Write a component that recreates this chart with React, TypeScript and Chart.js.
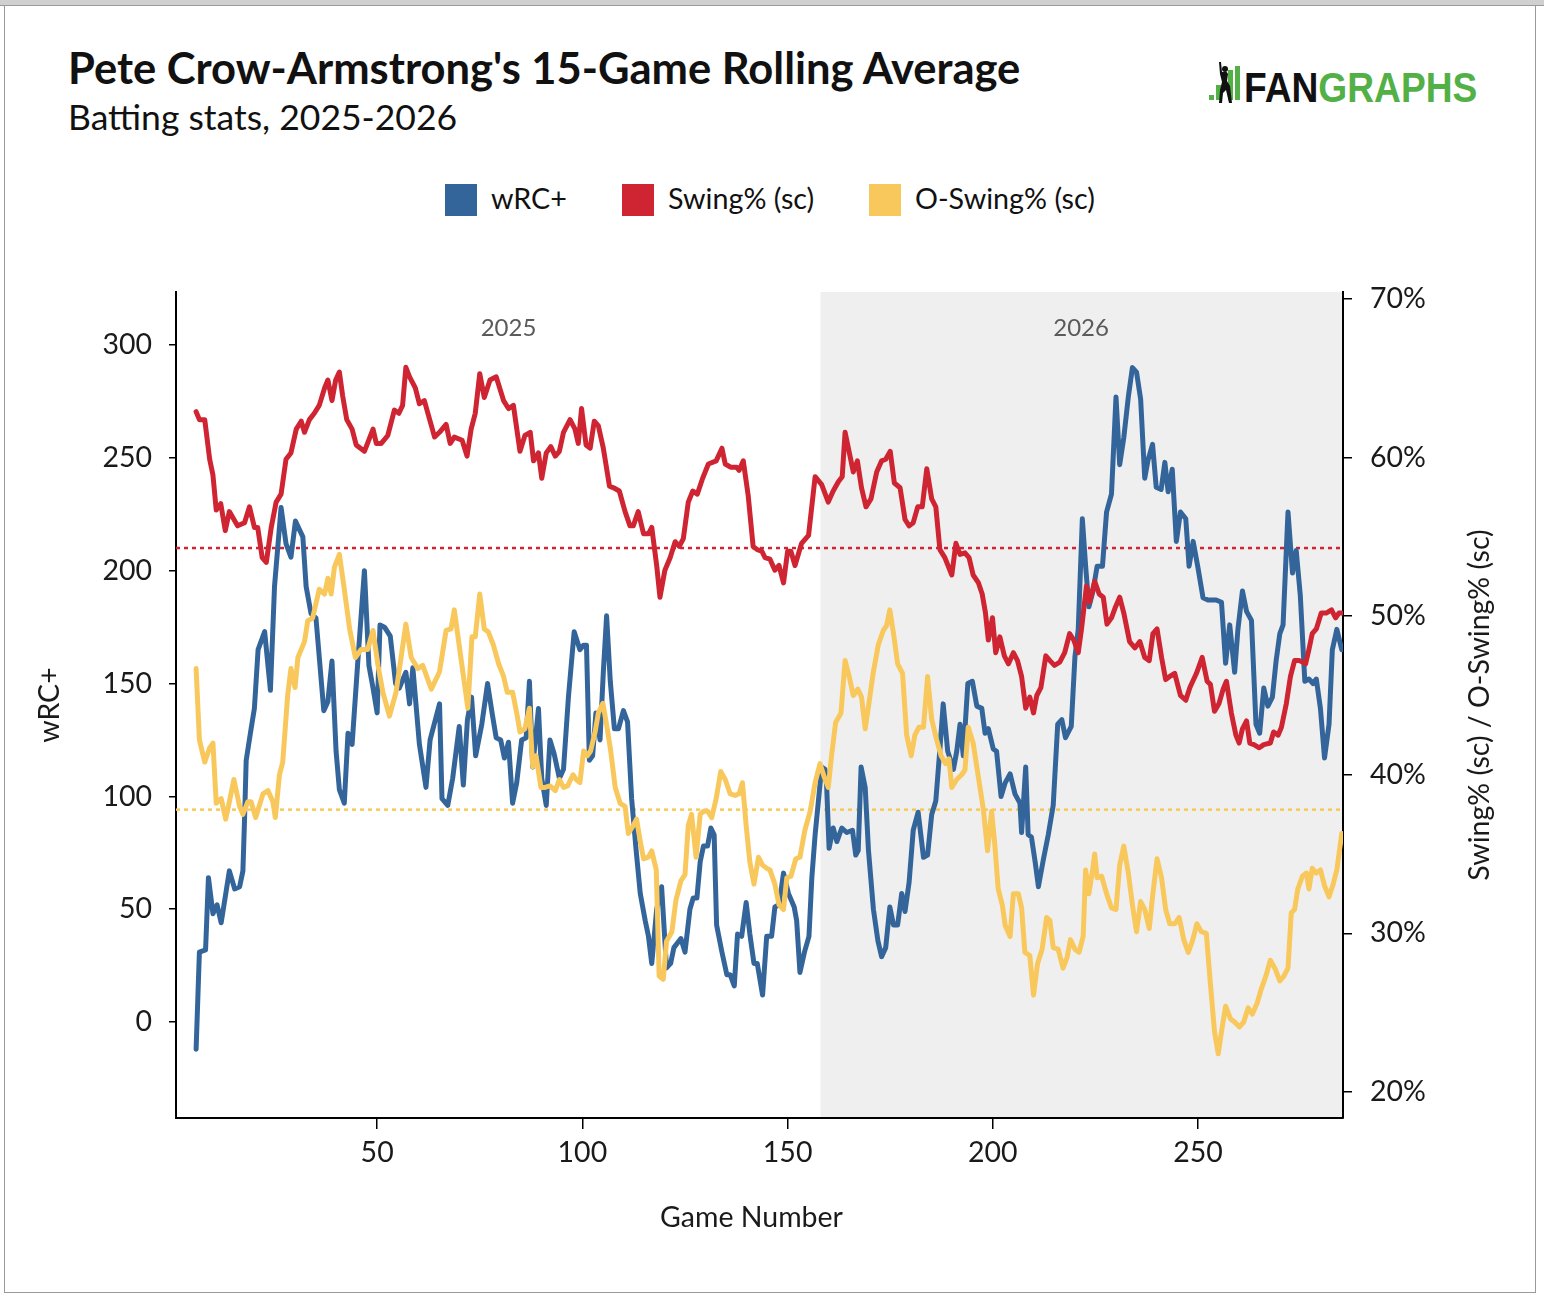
import { useEffect, useRef } from "react"
import { Chart, registerables, type Plugin } from "chart.js"

Chart.register(...registerables)

// wRC+ (left axis) — vertices, game number / value
const wrcGames = [
  5.9, 6.7, 8.2, 8.9, 10, 11, 12, 14, 15.3, 16.5, 17.3, 17.7, 18.1, 19.3, 20.1, 21, 22.6, 24, 25, 26.6, 27.8, 29, 30.1, 31.9,
  32.7, 33.9, 35.1, 37, 38, 39, 40, 40.8, 42, 42.9, 43.9, 45.3, 46.9, 48, 49, 50, 50.7, 51.8, 53.2, 54.5, 55.4, 57, 57.9,
  58.7, 60.3, 61.9, 62.9, 65.2, 65.8, 67.2, 68.4, 70, 71, 72, 73, 74, 75.5, 76.9, 78, 79, 80.1, 81, 82, 83, 84, 85.2, 86.3,
  87.1, 87.9, 89.3, 90.1, 91.2, 92.1, 93.1, 94.4, 95.4, 96.6, 98, 99.4, 100.3, 101, 101.7, 102.5, 103.3, 104.3, 105.1,
  105.9, 106.8, 107.8, 108.8, 110, 111, 112, 113.1, 114.1, 115.3, 116.1, 116.9, 118.1, 119.3, 120.5, 121.5, 122.3, 124,
  125, 126.2, 127, 127.9, 128.7, 129.5, 130.5, 131.3, 132.1, 132.7, 134, 135.2, 136, 137, 137.8, 138.8, 139.9, 140.8,
  141.8, 142.6, 143.9, 144.9, 146.1, 146.9, 147.9, 149, 150.2, 151.6, 152.2, 153, 154.1, 155.2, 155.9, 156.7, 157.5,
  158.3, 159.1, 159.5, 160.1, 161.1, 162, 163.2, 164.4, 165.8, 166.6, 167.2, 167.9, 168.9, 169.7, 170.9, 172, 172.9,
  173.9, 174.9, 175.8, 176.8, 177.8, 178.6, 179.6, 180.6, 181.8, 183.1, 184.1, 185.1, 186.1, 187.1, 187.9, 189, 190.4,
  191.2, 192, 192.8, 193.9, 195, 196.1, 197.3, 198.1, 198.9, 200.1, 200.9, 202, 203, 204.2, 205.4, 206.6, 207, 208, 208.6,
  209.4, 210.3, 211.1, 212.3, 213.5, 214.7, 215.8, 216.8, 217.7, 219.1, 220, 220.8, 221.8, 222.6, 223.4, 224.4, 225.4,
  226.7, 227.7, 228.9, 230, 230.9, 231.9, 233, 234, 235, 236, 237, 237.8, 238.9, 239.8, 241, 241.9, 242.7, 243.7, 244.7,
  245.7, 247, 247.8, 248.8, 250, 251.2, 252.4, 254.4, 255.7, 256.7, 257.7, 258.9, 259.7, 260.8, 261.8, 263, 264.1, 265,
  266, 267, 268.1, 269, 269.9, 270.7, 271.9, 273, 273.9, 274.9, 276, 277, 278, 278.8, 279.8, 280.8, 281.9, 282.7, 283.8,
  285,
]
const wrcValues = [
  -12, 31, 32, 64, 48, 52, 44, 67, 59, 60, 67, 90, 116, 130, 139, 165, 173, 147, 193, 228, 212, 206, 222, 215, 193, 181,
  179, 138, 142, 160, 120, 103, 97, 128, 123, 160, 200, 158, 148, 137, 176, 175, 171, 150, 148, 155, 141, 157, 123, 104,
  125, 141, 99, 96, 108, 131, 105, 134, 144, 118, 132, 150, 137, 126, 125, 117, 124, 97, 106, 125, 126, 151, 113, 139,
  108, 96, 125, 119, 108, 112, 144, 173, 165, 167, 167, 116, 118, 137, 125, 155, 180, 151, 130, 130, 138, 133, 99, 76,
  57, 45, 38, 26, 50, 60, 24, 26, 33, 37, 31, 50, 55, 55, 71, 78, 78, 86, 83, 43, 31, 21, 21, 16, 39, 38, 53, 39, 26, 26,
  12, 38, 38, 51, 52, 66, 57, 51, 45, 22, 31, 38, 64, 83, 98, 113, 112, 105, 77, 86, 80, 86, 84, 85, 74, 76, 113, 104,
  76, 50, 36, 29, 33, 51, 43, 43, 57, 49, 62, 85, 93, 73, 74, 92, 98, 121, 141, 120, 112, 120, 132, 118, 150, 151, 140,
  139, 128, 130, 121, 120, 100, 106, 110, 101, 97, 84, 113, 83, 82, 71, 60, 72, 83, 96, 132, 134, 126, 131, 162, 174,
  223, 202, 184, 191, 202, 202, 226, 234, 277, 247, 259, 277, 290, 288, 276, 241, 249, 256, 237, 236, 248, 235, 245, 213,
  226, 223, 202, 213, 201, 188, 187, 187, 186, 159, 176, 155, 174, 191, 182, 178, 132, 128, 148, 140, 144, 160, 172, 176,
  226, 199, 209, 189, 151, 152, 150, 152, 139, 117, 132, 165, 174, 165,
]

// Swing% (sc) (right axis)
const swingGames = [
  5.9, 6.7, 8, 9.2, 10, 10.8, 11.9, 13, 14, 16, 17.7, 18.9, 20.1, 20.9, 22, 23, 24.2, 25.4, 26.6, 27.8, 29, 30.3, 31.5,
  32.3, 33.5, 34.7, 35.9, 37.2, 38, 39, 39.9, 40.8, 41.6, 42.6, 43.9, 44.9, 46.9, 49, 49.8, 51, 52.6, 54.2, 55.3, 56.2,
  57, 57.9, 59.3, 60.3, 61.5, 62.8, 64, 65.2, 66.8, 67.8, 68.8, 70.7, 71.9, 72.9, 73.9, 75, 76.1, 77.5, 79, 80.8, 82,
  83.2, 84.8, 86, 87.3, 88.1, 89.3, 90.1, 91.2, 92.3, 93.4, 94.4, 95.4, 97, 98.2, 99, 99.8, 100.9, 101.9, 102.9, 103.9,
  105.1, 106.6, 107.6, 109, 110.4, 111.6, 112.4, 113.6, 114.9, 116.1, 116.9, 118.1, 118.9, 120.1, 121.4, 122.6, 123.6,
  124.6, 125.8, 126.9, 128, 129.3, 130.7, 132.6, 134, 134.8, 136.1, 137.6, 138.2, 139.2, 140.4, 141.6, 142.6, 143.7,
  144.5, 145.7, 146.9, 147.9, 149, 150, 150.8, 151.8, 153.4, 155.1, 156.7, 158.3, 159.9, 161.1, 162.4, 163.3, 164,
  165.2, 166, 167, 168, 169.1, 170.3, 171.7, 172.9, 173.9, 175, 176, 177.4, 178.6, 179.6, 180.6, 181.7, 182.8, 183.9,
  185.1, 186.1, 187.1, 188.3, 190, 191, 192, 193.2, 194.2, 195.2, 196.5, 197.4, 198.2, 198.9, 199.9, 200.7, 201.7, 202.8,
  203.8, 205, 206, 207, 208, 209, 209.9, 210.7, 211.7, 212.9, 213.9, 215, 216.3, 217.5, 218.7, 219.7, 220.8, 221.6,
  222.8, 223.6, 224.8, 225.9, 226.9, 227.8, 228.9, 229.9, 230.9, 231.9, 233.3, 234.6, 235.8, 237, 238.1, 239, 240, 241.1,
  242.1, 243.1, 244.3, 245.7, 247, 248, 249.6, 251, 252.2, 253, 254, 255.1, 256.1, 256.9, 258.1, 259.2, 260, 260.8, 261.8,
  262.6, 263.6, 264.9, 266, 267.6, 268.4, 269.5, 270.3, 271.5, 272.5, 273.5, 274.7, 276.2, 277, 277.8, 278.8, 280, 281.2,
  282.5, 283.5, 284.3, 285,
]
const swingValues = [
  62.9, 62.4, 62.4, 59.9, 58.9, 56.7, 57.1, 55.4, 56.6, 55.7, 55.9, 56.9, 55.6, 55.6, 53.7, 53.4, 55.6, 57.2, 57.7, 59.9,
  60.3, 61.8, 62.3, 61.6, 62.4, 62.8, 63.3, 64.4, 64.9, 63.6, 64.9, 65.4, 63.9, 62.4, 61.8, 60.8, 60.4, 61.8, 60.9, 60.9,
  61.4, 63, 62.8, 63.3, 65.7, 65.1, 64.4, 63.4, 63.6, 62.4, 61.3, 61.6, 62.1, 60.9, 61.3, 61.1, 60.1, 61.8, 62.8, 65.3,
  63.8, 64.9, 65.1, 63.6, 63.1, 63.3, 60.4, 61.4, 61.6, 59.8, 60.3, 58.7, 60.3, 60.7, 60.1, 60.4, 61.6, 62.4, 61.8, 60.9,
  63.1, 60.8, 60.6, 62.3, 62, 60.6, 58.2, 58.1, 57.9, 56.6, 55.7, 55.7, 56.6, 55.2, 55.2, 55.6, 53.2, 51.2, 52.9, 53.7,
  54.7, 54.4, 54.9, 57.2, 57.9, 57.7, 58.7, 59.6, 59.8, 60.6, 59.6, 59.4, 59.4, 59.2, 59.8, 57.6, 54.4, 54.2, 54.1, 53.7,
  53.6, 52.9, 53.2, 52.1, 54.1, 54.1, 53.2, 54.6, 55.1, 58.8, 58.3, 57.2, 57.9, 58.5, 58.8, 61.6, 60.1, 59.1, 59.8, 58.1,
  56.9, 57.4, 59.1, 59.8, 59.9, 60.4, 58.4, 58.1, 56.1, 55.7, 55.9, 56.9, 56.9, 59.3, 57.4, 56.9, 54.2, 53.7, 52.6, 54.6,
  53.9, 54, 53.7, 52.6, 52.1, 51.4, 50.2, 48.5, 49.9, 47.7, 48.7, 47.5, 47, 47.7, 47.2, 46.2, 44.2, 44.9, 43.9, 45, 45.5,
  47.5, 47.2, 46.9, 47.1, 47.7, 48.9, 48.5, 47.7, 49.2, 51.9, 50.9, 52.2, 51.4, 51.2, 49.5, 49.9, 50.6, 51.2, 50.2, 48.4,
  48, 48.4, 47.4, 47.2, 48.9, 49.2, 47.4, 46, 46.2, 46.4, 45, 44.7, 45.5, 46.4, 47.4, 45.9, 45.7, 44, 44.5, 45.4, 45.9,
  43.9, 42.5, 42, 42.9, 43.4, 42, 41.9, 41.7, 41.9, 42, 42.7, 42.5, 43, 44.5, 46.2, 47.2, 47.2, 47, 47.9, 48.9, 49.2,
  50.2, 50.2, 50.4, 49.9, 50.2, 50.2,
]

// O-Swing% (sc) (right axis)
const oSwingGames = [
  5.9, 6.7, 8, 9.2, 10, 10.8, 12, 13.1, 14, 15.1, 16.5, 17.3, 18.5, 19.3, 20.4, 22.2, 23.4, 24.6, 25.2, 26.2, 27, 28.2,
  29, 30, 30.7, 32.3, 33.1, 34.3, 35.9, 37.2, 38, 38.8, 39.6, 40.8, 42, 43.3, 44.7, 46.1, 47.7, 49, 50.2, 51.4, 53, 54.6,
  57, 58.3, 59.9, 61.1, 63.2, 65.2, 66.8, 68, 68.8, 70.5, 72.1, 73.1, 73.9, 75, 76.1, 77.1, 78.3, 79.6, 80.8, 81.7, 83,
  84, 84.8, 86, 87.1, 87.9, 88.7, 89.9, 90.9, 92.1, 93.4, 94.4, 95.4, 96.4, 97.7, 98.5, 99.4, 100.3, 101.2, 102, 103.1,
  103.9, 105, 106, 106.9, 108, 109.2, 110.4, 111.2, 112.4, 113.2, 114.1, 114.9, 116.1, 116.9, 118, 118.7, 119.7, 120.5,
  121.8, 122.8, 124, 125, 125.8, 126.6, 127.7, 128.7, 129.5, 130.5, 131.5, 132.6, 133.7, 134.8, 136, 137.2, 138.2, 139,
  139.9, 140.8, 141.8, 142.9, 143.9, 144.9, 145.7, 146.9, 147.9, 149, 149.8, 150.8, 152, 153, 154.2, 155.5, 156.7, 157.9,
  159, 159.9, 160.7, 161.7, 163, 164, 165, 166, 167.1, 168, 168.9, 169.8, 170.9, 172.1, 173.3, 174.1, 174.9, 175.8,
  176.8, 178, 179, 180.1, 181, 182, 183.1, 184.1, 185.1, 186.3, 187.4, 188.5, 189.3, 190, 191.2, 192.4, 193.2, 194,
  195.2, 196.5, 197.7, 198.7, 199.7, 200.5, 201.3, 202.3, 203, 204.2, 205, 206.2, 207, 207.8, 209, 209.9, 210.9, 212,
  213.1, 213.9, 214.7, 215.9, 217.1, 218.1, 218.9, 220, 221, 222, 222.6, 223.4, 224.3, 224.8, 225.4, 226.5, 227.7, 228.9,
  230, 230.9, 231.9, 233, 234, 235, 236, 237, 238.1, 238.9, 240, 241.1, 242.1, 243.1, 244.3, 245.4, 246.5, 247.6, 248.6,
  249.7, 250.8, 252, 253, 254, 254.9, 255.7, 256.7, 257.9, 258.9, 260.1, 261.1, 262.2, 263.2, 264.4, 265.4, 266.5, 267.6,
  268.7, 269.9, 270.9, 271.9, 272.7, 273.5, 274.3, 275.4, 276.4, 277, 277.8, 278.8, 279.8, 280.8, 281.9, 282.9, 283.8,
  285,
]
const oSwingValues = [
  46.7, 42.2, 40.8, 41.7, 42, 38.2, 38.5, 37.2, 38.3, 39.7, 38, 37.5, 38.3, 38.3, 37.3, 38.8, 39, 38.3, 37.3, 40, 40.8,
  45, 46.7, 45.5, 47.4, 48.4, 49.7, 49.9, 51.7, 51.4, 52.4, 51.4, 53.1, 53.9, 51.7, 49.2, 47.4, 47.9, 47.9, 49.1, 46.9,
  45.2, 43.7, 45.2, 49.5, 47.4, 46.7, 46.9, 45.4, 46.5, 49.1, 49.2, 50.4, 47.2, 44.2, 48.7, 48.7, 51.4, 49.2, 49, 48.2,
  47, 46.2, 45.2, 45.2, 43.9, 42.7, 42.9, 44.2, 40.5, 41.2, 39.2, 39.2, 39.3, 39, 39.7, 39.2, 39.3, 40, 39.7, 39.5, 41.5,
  41.2, 41.5, 42.7, 43.9, 44.5, 43, 41.5, 39.2, 38.2, 38, 36.3, 36.8, 37.2, 35.8, 34.7, 34.8, 35.2, 34, 27.3, 27.1, 29.5,
  30.1, 32.1, 33.3, 33.7, 36.8, 37.5, 34.8, 37.5, 37.7, 37.7, 37.3, 38.5, 40.2, 39.7, 38.8, 38.7, 38.8, 39.5, 36.8, 34.5,
  33.1, 34.8, 34.3, 34.1, 34, 33.1, 31.8, 31.5, 33.5, 33.6, 34.7, 34.8, 36.5, 37.7, 39.5, 40.7, 39.8, 39.2, 41.2, 43.3,
  43.9, 47.2, 46.2, 45, 45.4, 44.9, 42.9, 44.5, 46.5, 48.2, 49.1, 49.4, 50.4, 48.9, 47, 46.4, 42.5, 41.2, 42.5, 43, 43,
  46.2, 43.5, 42.2, 41.2, 40.7, 41, 39.2, 39.7, 40, 40.3, 43, 42, 39.8, 37.8, 35.2, 37.7, 35.5, 32.8, 31.8, 30.5, 29.8,
  32.5, 32.5, 31.6, 28.8, 28.6, 26.1, 28.1, 29, 31, 30.8, 29.1, 29, 27.8, 28.5, 29.6, 29, 28.8, 29.8, 34, 32.5, 34, 35,
  33.5, 33.6, 32.5, 31.6, 31.5, 34.3, 35.5, 33.8, 31.8, 30.1, 32, 31.5, 30.3, 32.3, 34.7, 33.5, 31.5, 30.6, 30.6, 31,
  29.6, 28.8, 29.5, 30.6, 30.1, 30, 26.8, 23.8, 22.4, 23.8, 25.4, 24.6, 24.4, 24.1, 24.4, 25.3, 24.9, 25.6, 26.5, 27.3,
  28.3, 27.8, 27, 27.3, 27.8, 31.3, 31.5, 32.8, 33.6, 33.8, 32.8, 34.1, 33.8, 34, 33, 32.3, 33.1, 34, 36.3,
]

// dotted reference levels (right axis)
const swingAverage = 54.3
const oSwingAverage = 37.8

const seasonLabels = ["2025", "2026"]
const seasonStarts = [6, 158]
const seasonEnds = [158, 285]

const gameTicks = [50, 100, 150, 200, 250]
const wrcTicks = [0, 50, 100, 150, 200, 250, 300]
const pctTicks = [20, 30, 40, 50, 60, 70]

const xTitle = "Game Number"
const rightTitle = "Swing% (sc) / O-Swing% (sc)"

const xMin = 1
const xMax = 285.3
const wrcMin = -42.5
const wrcMax = 323.5
const pctMin = 18.35
const pctMax = 70.45

const BLUE = "#33659a"
const RED = "#cf2431"
const YELLOW = "#f8c85c"
const GREEN = "#52b046"
const INK = "#1a1a1a"

const legendItems = [
  { label: "wRC+", color: BLUE, left: 445 },
  { label: "Swing% (sc)", color: RED, left: 622 },
  { label: "O-Swing% (sc)", color: YELLOW, left: 869 },
]

const toPoints = (xs: number[], ys: number[]) => xs.map((x, i) => ({ x, y: ys[i] }))

const seasonPlugin: Plugin<"line"> = {
  id: "seasonShading",
  beforeDraw(chart) {
    const { ctx, chartArea, scales } = chart
    const x = scales.x
    const start = x.getPixelForValue(seasonStarts[1])
    ctx.save()
    ctx.fillStyle = "#efefef"
    ctx.fillRect(start, chartArea.top, chartArea.right - start, chartArea.bottom - chartArea.top)
    ctx.fillStyle = "#5a5a5a"
    ctx.font = "24px Lato"
    ctx.textAlign = "center"
    ctx.textBaseline = "middle"
    seasonLabels.forEach((label, i) => {
      const mid = (seasonStarts[i] + seasonEnds[i]) / 2
      ctx.fillText(label, x.getPixelForValue(mid), chartArea.top + 36)
    })
    ctx.restore()
  },
}

// x title and right-hand title, both read like the reference (right one bottom-to-top)
const axisTitlePlugin: Plugin<"line"> = {
  id: "axisTitles",
  afterDraw(chart) {
    const { ctx, chartArea } = chart
    ctx.save()
    ctx.fillStyle = INK
    ctx.font = "28.5px Lato"
    ctx.textAlign = "center"
    ctx.textBaseline = "middle"
    ctx.fillText(xTitle, (chartArea.left + chartArea.right) / 2 - 8, chartArea.bottom + 100)
    ctx.translate(chartArea.right + 137, (chartArea.top + chartArea.bottom) / 2)
    ctx.rotate(-Math.PI / 2)
    ctx.fillText(rightTitle, 0, 0)
    ctx.restore()
  },
}

function PlotCanvas() {
  const canvasRef = useRef<HTMLCanvasElement>(null)

  useEffect(() => {
    if (!canvasRef.current) return
    Chart.defaults.font.family = "Lato"
    Chart.defaults.color = INK

    const lineStyle = { pointRadius: 0, tension: 0, borderWidth: 5, borderJoinStyle: "round" as const, borderCapStyle: "round" as const }

    const chart = new Chart(canvasRef.current, {
      type: "line",
      data: {
        datasets: [
          { label: "O-Swing% (sc)", data: toPoints(oSwingGames, oSwingValues), yAxisID: "y1", borderColor: YELLOW, order: 0, ...lineStyle },
          { label: "Swing% (sc)", data: toPoints(swingGames, swingValues), yAxisID: "y1", borderColor: RED, order: 1, ...lineStyle },
          { label: "wRC+", data: toPoints(wrcGames, wrcValues), yAxisID: "y", borderColor: BLUE, order: 2, ...lineStyle },
          {
            label: "Swing% avg",
            data: [{ x: xMin, y: swingAverage }, { x: xMax, y: swingAverage }],
            yAxisID: "y1",
            borderColor: RED,
            borderWidth: 2.5,
            borderDash: [4, 4],
            pointRadius: 0,
            order: 3,
          },
          {
            label: "O-Swing% avg",
            data: [{ x: xMin, y: oSwingAverage }, { x: xMax, y: oSwingAverage }],
            yAxisID: "y1",
            borderColor: YELLOW,
            borderWidth: 2.5,
            borderDash: [4, 4],
            pointRadius: 0,
            order: 4,
          },
        ],
      },
      options: {
        animation: false,
        responsive: false,
        layout: { padding: { top: 42, left: 0, right: 0, bottom: 0 } },
        plugins: { legend: { display: false }, tooltip: { enabled: false } },
        scales: {
          x: {
            type: "linear",
            position: "bottom",
            min: xMin,
            max: xMax,
            afterBuildTicks: (scale) => {
              scale.ticks = gameTicks.map((value) => ({ value }))
            },
            afterFit: (scale) => {
              scale.height = 132
            },
            grid: { drawOnChartArea: false, drawTicks: true, tickLength: 11, color: "#000", lineWidth: 1.5 },
            border: { display: true, color: "#000", width: 2 },
            ticks: { font: { size: 28.5 }, padding: 7, maxRotation: 0, color: INK },
          },
          y: {
            type: "linear",
            position: "left",
            min: wrcMin,
            max: wrcMax,
            afterBuildTicks: (scale) => {
              scale.ticks = wrcTicks.map((value) => ({ value }))
            },
            afterFit: (scale) => {
              scale.width = 176
            },
            grid: { drawOnChartArea: false, drawTicks: true, tickLength: 7, color: "#000", lineWidth: 1.5 },
            border: { display: true, color: "#000", width: 2 },
            ticks: { font: { size: 28.5 }, padding: 17, color: INK },
            title: { display: true, text: "wRC+", font: { size: 28.5 }, color: INK, padding: { top: 33, bottom: 0 } },
          },
          y1: {
            type: "linear",
            position: "right",
            min: pctMin,
            max: pctMax,
            afterBuildTicks: (scale) => {
              scale.ticks = pctTicks.map((value) => ({ value }))
            },
            afterFit: (scale) => {
              scale.width = 201
            },
            grid: { drawOnChartArea: false, drawTicks: true, tickLength: 9, color: "#000", lineWidth: 1.5 },
            border: { display: true, color: "#000", width: 2 },
            ticks: { font: { size: 28.5 }, padding: 18, color: INK, callback: (v) => `${v}%` },
          },
        },
      },
      plugins: [seasonPlugin, axisTitlePlugin],
    })

    return () => chart.destroy()
  }, [])

  return (
    <canvas
      ref={canvasRef}
      width={1544}
      height={1000}
      style={{ position: "absolute", left: 0, top: 250, width: 1544, height: 1000 }}
    />
  )
}

function Logo() {
  return (
    <div style={{ position: "absolute", left: 1206, top: 60, height: 46, display: "flex", alignItems: "flex-end" }}>
      <svg width={40} height={46} viewBox="0 0 40 46" style={{ display: "block" }}>
        <rect x={3} y={35} width={5} height={5} fill={GREEN} />
        <rect x={10} y={25} width={5} height={15} fill={GREEN} />
        <rect x={22} y={10} width={5} height={30} fill={GREEN} />
        <rect x={29} y={6} width={5} height={34} fill={GREEN} />
        <path
          d="M13 2 L15 2 L16 12 L18 12 Q21 11 22 14 L21 21 L24 26 L26 43 L23 43 L20 30 L17 33 L16 43 L13 43 L14 30 L16 22 L14 14 Z"
          fill="#111"
        />
        <circle cx={19} cy={9} r={3} fill="#111" />
      </svg>
      <div
        style={{
          fontFamily: "'Liberation Sans', Arial, sans-serif",
          fontWeight: 700,
          fontSize: 42,
          lineHeight: "42px",
          transform: "scaleX(0.885)",
          transformOrigin: "left bottom",
          whiteSpace: "nowrap",
          marginLeft: -2,
          marginBottom: -3,
        }}
      >
        <span style={{ color: "#111" }}>FAN</span>
        <span style={{ color: GREEN }}>GRAPHS</span>
      </div>
    </div>
  )
}

export default function App() {
  return (
    <div style={{ position: "absolute", left: 0, top: 0, width: 1544, height: 1300, background: "#fff", fontFamily: "Lato, sans-serif" }}>
      <div style={{ position: "absolute", left: 0, top: 0, width: 1544, height: 5, background: "#d0d0d0", borderBottom: "1px solid #9a9a9a" }} />
      <div
        style={{
          position: "absolute",
          left: 4,
          top: 6,
          width: 1530,
          height: 1286,
          borderLeft: "1px solid #9a9a9a",
          borderRight: "1px solid #9a9a9a",
          borderBottom: "1px solid #9a9a9a",
        }}
      />
      <div style={{ position: "absolute", left: 68, top: 46.4, fontSize: 43.5, lineHeight: "43.5px", fontWeight: 700, color: "#111", whiteSpace: "nowrap" }}>
        Pete Crow-Armstrong's 15-Game Rolling Average
      </div>
      <div style={{ position: "absolute", left: 68, top: 98.5, fontSize: 35.5, lineHeight: "35.5px", color: "#111", whiteSpace: "nowrap" }}>
        Batting stats, 2025-2026
      </div>
      <Logo />
      {legendItems.map((item) => (
        <div key={item.label}>
          <div style={{ position: "absolute", left: item.left, top: 184, width: 32, height: 32, background: item.color }} />
          <div style={{ position: "absolute", left: item.left + 46, top: 184, fontSize: 28.7, lineHeight: "28.7px", color: "#111", whiteSpace: "nowrap" }}>
            {item.label}
          </div>
        </div>
      ))}
      <PlotCanvas />
    </div>
  )
}
